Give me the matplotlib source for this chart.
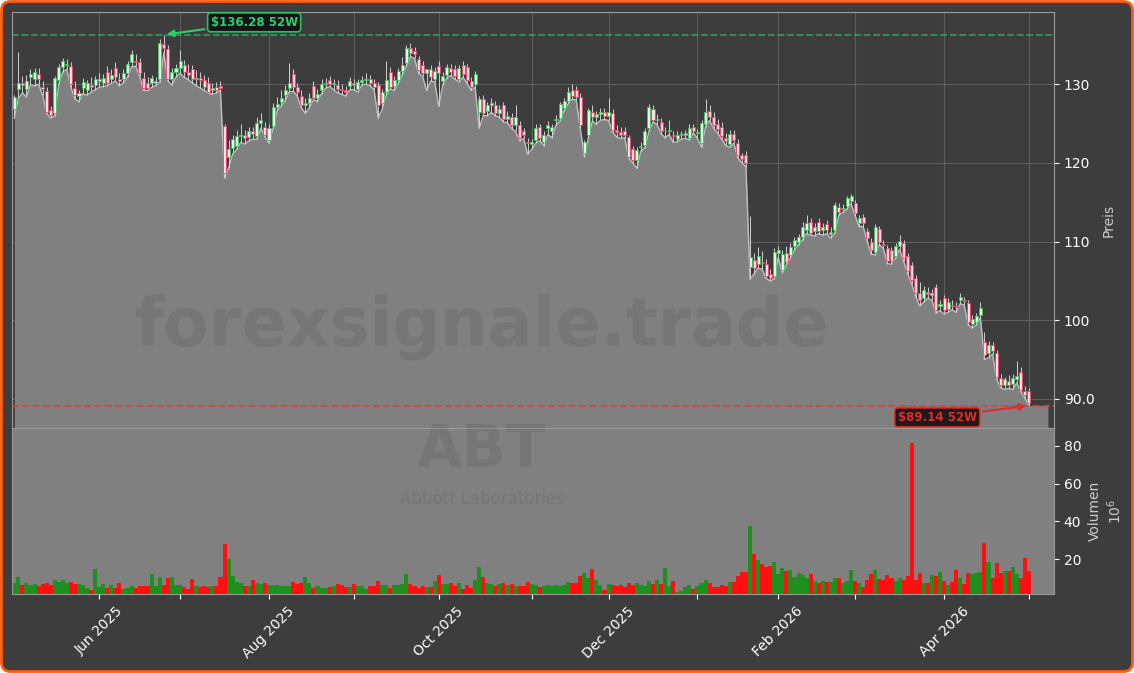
"""
ABT daily candles with 52-week high/low and volume panel
"""
import numpy as np
import matplotlib

matplotlib.use("Agg")

import matplotlib.pyplot as plt
from matplotlib.patches import FancyBboxPatch
from matplotlib.ticker import MultipleLocator, FuncFormatter

# daily OHLC, 1 May 2025 .. 1 May 2026 (trading days only)
opens = [
    126.9, 129.4, 130.2, 129.4, 130.9, 130.7, 131.3, 129.6, 129.1, 126.7, 126.3, 130.5, 132.2, 132.4, 132.3, 129.5, 128.5, 129.5, 129.2, 129.9, 129.9,
    130.4, 130.2, 131.6, 130.7, 132.1, 130.6, 130.7, 131.4, 132.8, 133.0, 132.8, 130.8, 130.2, 130.1, 130.2, 130.6, 135.1, 134.5, 130.6, 131.6,
    132.0, 132.4, 131.5, 131.9, 130.7, 130.8, 130.5, 130.2, 129.2, 129.6, 129.8, 124.7, 120.8, 121.9, 122.2, 123.4, 123.6, 123.3, 124.0, 123.4, 125.1, 124.5,
    122.9, 124.7, 127.1, 127.8, 128.6, 129.5, 131.3, 129.6, 128.5, 127.3, 127.6, 129.8, 128.3, 129.2, 130.0, 130.5, 130.0, 129.9, 129.4, 129.2, 129.8,
    130.2, 129.4, 130.3, 130.5, 130.7, 130.2, 129.9, 127.6, 129.0, 131.5, 129.8, 130.5, 131.7, 132.7, 134.6, 134.2, 133.2, 132.5, 131.4, 131.9, 130.7,
    132.3, 130.4, 131.2, 132.1, 131.9, 130.7, 132.4, 132.2, 130.4, 130.0, 126.5, 128.1, 126.6, 127.3, 127.4, 126.4, 127.3, 125.6, 125.8, 124.8, 124.8, 124.0, 122.6,
    122.4, 122.9, 124.5, 122.6, 124.4, 124.1, 125.4, 125.7, 127.0, 127.9, 129.2, 129.2, 128.4, 121.3, 123.5, 126.5, 125.8, 126.2, 126.5,
    125.9, 126.3, 124.2, 123.9, 124.0, 123.3, 121.8, 120.3, 122.0, 122.3, 124.4, 126.9, 125.5, 125.2, 124.0, 124.0, 123.6, 123.0, 123.6, 123.6, 123.2, 124.5,
    123.8, 122.5, 125.0, 126.6, 125.8, 125.0, 124.6, 123.2, 122.4, 123.7, 122.5, 121.0, 121.0, 106.8, 107.7, 107.2, 107.4, 107.2, 105.9, 105.6,
    108.6, 106.4, 108.6, 108.3, 109.4, 110.0, 110.6, 111.5, 112.5, 111.3, 112.5, 111.4, 112.2, 111.0, 111.5, 114.4, 114.1, 114.5, 115.2,
    114.9, 112.3, 113.1, 111.3, 110.0, 108.7, 111.6, 109.7, 109.2, 108.9, 108.2, 109.4, 109.8, 108.2, 107.0, 105.3, 103.4, 102.8, 103.6, 103.2, 104.2, 101.8,
    102.8, 101.4, 101.9, 101.8, 102.6, 102.6, 102.2, 99.5, 99.8, 100.7, 97.2, 95.8, 96.8, 95.8, 92.6, 91.7, 92.3, 91.9, 92.5, 93.4, 91.0,
    91.0,
]
highs = [
    128.6, 134.1, 131.0, 131.2, 131.9, 132.0, 132.0, 130.4, 129.6, 127.2, 131.0, 132.6, 133.3, 133.2, 132.8, 130.4, 129.3, 130.8, 130.5, 130.9, 131.1,
    131.4, 131.3, 132.3, 131.9, 132.8, 131.4, 131.9, 133.0, 134.4, 133.9, 133.3, 131.5, 130.9, 131.2, 130.9, 135.8, 136.28, 135.0, 132.1, 132.6,
    134.3, 133.1, 132.6, 132.5, 131.8, 131.5, 131.2, 130.9, 130.2, 130.3, 130.4, 125.0, 122.9, 123.5, 124.2, 124.9, 124.2, 124.6, 124.6, 125.8, 126.3, 125.2,
    124.9, 127.6, 128.4, 129.2, 129.9, 132.7, 131.9, 130.2, 129.2, 128.3, 128.9, 130.4, 129.4, 130.6, 130.8, 131.0, 130.6, 130.5, 130.0, 129.8, 130.9,
    130.7, 130.7, 131.1, 131.4, 131.2, 130.6, 130.3, 129.4, 132.9, 132.2, 131.0, 132.1, 133.5, 135.0, 135.3, 134.7, 133.6, 132.9, 131.9, 132.4, 132.2,
    132.9, 131.5, 132.6, 132.6, 132.4, 132.5, 132.9, 132.6, 130.9, 131.7, 128.5, 128.6, 127.8, 128.3, 127.9, 127.4, 127.7, 126.6, 126.3, 127.4, 125.3, 124.4, 123.1,
    123.0, 124.9, 125.0, 124.0, 125.3, 124.9, 126.1, 127.8, 128.3, 129.6, 130.0, 129.8, 128.9, 122.9, 127.0, 127.4, 126.6, 127.0, 127.0,
    128.3, 126.8, 124.8, 124.5, 124.5, 123.6, 122.2, 122.0, 122.6, 124.4, 127.5, 127.3, 126.2, 125.7, 124.5, 125.5, 124.1, 124.0, 124.1, 124.2, 124.9, 125.0,
    124.3, 125.4, 128.1, 127.3, 126.5, 125.6, 125.2, 123.8, 124.2, 124.2, 123.0, 121.3, 121.5, 113.3, 108.5, 109.3, 108.8, 107.8, 106.5, 109.2,
    109.4, 108.9, 109.4, 109.8, 110.6, 111.0, 112.5, 113.4, 113.0, 112.4, 113.0, 112.3, 112.7, 111.8, 115.0, 114.9, 114.8, 115.8, 116.1,
    115.3, 113.4, 113.5, 111.7, 110.4, 112.2, 112.0, 110.2, 109.6, 109.3, 109.8, 110.8, 110.2, 108.6, 107.4, 105.7, 104.9, 104.4, 104.2, 104.0, 104.6, 102.6,
    103.2, 102.8, 102.5, 102.3, 103.4, 103.0, 102.6, 100.6, 100.9, 102.3, 98.5, 97.3, 97.2, 96.2, 93.2, 92.8, 93.0, 93.2, 94.8, 94.0, 91.6,
    91.4,
]
lows = [
    125.7, 128.2, 128.9, 128.4, 129.9, 129.8, 130.0, 128.6, 126.3, 125.7, 126.0, 130.0, 131.6, 131.9, 129.6, 128.1, 127.8, 128.8, 128.6, 129.0, 129.3,
    129.6, 129.7, 129.8, 130.1, 130.4, 129.8, 130.2, 130.9, 132.2, 132.3, 131.0, 129.2, 129.2, 129.6, 129.8, 130.3, 134.0, 130.4, 129.9, 130.9,
    131.4, 130.9, 130.6, 130.2, 129.8, 129.5, 129.2, 128.9, 128.7, 128.9, 129.2, 118.1, 119.3, 121.1, 121.7, 122.6, 122.4, 122.8, 123.0, 123.0, 124.4, 123.3,
    122.5, 124.3, 126.6, 127.2, 127.9, 129.0, 129.1, 128.5, 127.0, 126.3, 127.0, 128.0, 127.8, 128.8, 129.5, 129.7, 129.3, 128.9, 128.7, 128.5, 129.3,
    129.3, 129.0, 129.9, 130.0, 129.8, 129.3, 125.7, 126.8, 128.6, 129.4, 129.2, 130.1, 131.2, 132.3, 133.5, 133.3, 131.4, 131.0, 129.2, 130.4, 130.3,
    127.2, 129.9, 130.8, 131.1, 130.6, 130.3, 130.9, 130.1, 129.2, 129.6, 124.4, 126.0, 126.0, 126.4, 126.0, 125.8, 125.2, 125.1, 124.4, 124.0, 122.8, 123.1, 121.1,
    121.7, 122.5, 122.8, 122.2, 123.6, 123.2, 124.8, 125.3, 126.6, 127.5, 128.1, 128.0, 124.4, 120.8, 123.1, 125.3, 124.9, 125.4, 125.5,
    125.4, 123.9, 123.3, 123.1, 123.2, 120.6, 120.0, 119.3, 121.5, 121.9, 124.0, 125.2, 124.9, 123.7, 123.2, 123.6, 122.6, 122.7, 123.0, 123.1, 122.9, 123.8,
    123.1, 122.0, 124.6, 125.4, 124.4, 123.8, 123.0, 122.2, 122.0, 122.5, 120.6, 120.0, 119.5, 105.2, 105.9, 106.6, 106.5, 105.3, 105.0, 105.2,
    108.0, 106.0, 107.0, 107.9, 108.9, 109.6, 110.2, 111.0, 110.8, 110.7, 111.0, 110.8, 111.0, 110.4, 111.1, 113.4, 113.7, 114.1, 114.8,
    113.3, 111.9, 111.9, 110.0, 108.4, 108.3, 109.6, 109.1, 107.2, 107.1, 107.9, 109.0, 107.5, 105.9, 104.6, 103.0, 101.8, 102.3, 102.8, 102.5, 100.9, 101.2,
    100.8, 101.0, 101.3, 101.0, 102.1, 101.9, 99.4, 99.0, 99.4, 100.3, 95.0, 95.2, 95.7, 92.5, 91.4, 91.2, 91.3, 91.2, 92.0, 90.9, 90.1,
    89.14,
]
closes = [
    128.4, 130.2, 129.9, 130.4, 131.3, 131.5, 130.6, 129.4, 126.5, 126.1, 130.8, 132.2, 133.0, 132.6, 130.0, 128.6, 128.9, 130.3, 130.2, 129.6, 130.6,
    130.7, 130.8, 130.2, 131.2, 130.9, 130.4, 131.4, 132.6, 133.8, 132.8, 131.4, 129.5, 129.5, 130.8, 130.4, 135.3, 134.6, 130.7, 131.6, 132.1,
    133.0, 131.5, 131.2, 130.7, 130.8, 130.5, 129.7, 129.0, 129.5, 129.3, 129.5, 118.7, 121.8, 123.0, 123.4, 123.6, 123.2, 124.0, 123.7, 125.1, 125.5, 123.6,
    124.4, 127.1, 127.5, 128.3, 129.2, 130.2, 129.6, 129.0, 127.3, 127.6, 128.3, 128.3, 128.8, 130.0, 130.2, 130.0, 130.0, 129.4, 129.2, 129.0, 130.4,
    129.9, 130.3, 130.5, 130.7, 130.2, 129.7, 127.4, 129.0, 130.5, 129.7, 130.5, 131.7, 132.5, 134.6, 134.0, 133.8, 131.8, 131.4, 131.9, 130.9, 131.7,
    131.4, 131.0, 132.2, 131.6, 131.0, 132.1, 131.3, 130.5, 129.7, 131.3, 128.1, 126.3, 127.3, 127.6, 126.4, 126.8, 125.6, 126.0, 124.8, 125.8, 123.2, 123.6, 122.5,
    122.6, 124.4, 123.2, 123.6, 124.8, 124.6, 125.6, 127.5, 127.9, 129.0, 128.5, 128.4, 124.8, 122.6, 126.7, 125.8, 126.2, 126.5, 125.9,
    126.5, 124.2, 123.9, 123.6, 123.6, 120.8, 120.3, 121.6, 122.2, 124.0, 127.1, 125.5, 125.5, 124.0, 124.0, 124.2, 123.4, 123.6, 123.6, 123.8, 124.4, 124.0,
    123.8, 125.1, 126.5, 125.8, 124.8, 124.3, 123.4, 122.8, 123.7, 122.9, 121.0, 120.5, 120.0, 108.0, 106.6, 108.2, 107.3, 105.6, 105.4, 108.7,
    108.9, 108.4, 107.4, 109.3, 110.2, 110.6, 111.9, 112.3, 111.1, 111.8, 111.3, 111.9, 111.4, 111.2, 114.7, 113.8, 114.3, 115.5, 115.8,
    113.6, 113.0, 112.3, 110.4, 108.9, 111.9, 109.9, 109.5, 107.5, 107.5, 109.4, 110.1, 107.9, 106.3, 105.1, 103.4, 102.6, 103.8, 103.3, 103.4, 101.3, 102.0,
    101.3, 102.3, 101.8, 101.7, 103.0, 102.4, 99.8, 100.1, 100.5, 101.5, 95.6, 96.9, 96.1, 92.8, 91.8, 92.5, 91.8, 92.6, 92.9, 91.1, 90.5,
    89.5,
]
# volume in millions of shares
volumes = [
    7.6, 10.8, 6.6, 7.6, 6.4, 6.9, 6.0, 6.9, 7.6, 6.6, 9.0, 8.0, 9.0, 7.6, 8.1, 6.9, 6.9, 6.4, 4.8, 3.7,
    14.9, 5.5, 6.9, 4.8, 6.4, 4.8, 7.6, 4.4, 4.8, 5.8, 4.8, 6.0, 6.0, 6.0, 12.2, 5.8, 10.8, 6.4, 10.3, 10.6,
    6.6, 6.6, 5.5, 4.3, 9.6, 5.8, 5.5, 5.8, 5.5, 5.8, 5.8, 10.8, 28.1, 20.2, 11.3, 8.0, 7.4, 5.8, 5.8, 9.0,
    7.3, 6.9, 7.4, 6.4, 6.4, 6.4, 5.8, 5.8, 5.8, 8.0, 6.9, 7.4, 10.6, 7.4, 4.8, 5.8, 4.6, 4.6, 5.1, 5.8,
    6.9, 6.4, 5.5, 5.5, 6.9, 5.8, 5.8, 4.3, 5.8, 5.8, 8.5, 6.4, 6.4, 4.8, 6.4, 6.4, 6.9, 12.2, 6.9, 5.8,
    4.8, 5.8, 5.5, 5.5, 8.5, 11.9, 6.9, 6.9, 7.4, 5.8, 7.4, 4.3, 6.4, 4.8, 9.0, 15.9, 10.8, 7.4, 6.9, 5.8,
    6.9, 7.4, 6.4, 6.9, 5.8, 5.8, 5.8, 8.0, 6.9, 6.4, 5.5, 5.8, 6.4, 5.8, 6.4, 5.8, 6.4, 8.0, 7.4, 7.4,
    11.2, 12.6, 9.9, 14.9, 9.0, 6.6, 3.7, 6.9, 6.6, 6.0, 6.4, 5.3, 7.4, 6.6, 7.4, 6.6, 6.0, 8.3, 6.9, 9.0,
    6.9, 15.4, 5.8, 8.5, 2.8, 3.2, 5.5, 6.2, 4.4, 5.8, 7.6, 9.0, 7.4, 5.5, 5.5, 6.4, 6.0, 8.0, 8.0, 11.3,
    13.1, 13.1, 37.7, 22.8, 19.7, 17.5, 16.1, 16.5, 18.4, 12.2, 15.2, 14.0, 14.3, 10.8, 12.6, 11.7, 10.3, 12.2, 8.5, 7.4,
    8.5, 8.0, 8.0, 10.1, 10.1, 7.6, 8.5, 14.3, 8.5, 7.6, 5.5, 9.0, 12.4, 14.3, 9.6, 9.0, 11.7, 9.9, 8.5, 10.1,
    9.0, 11.3, 81.2, 9.0, 12.7, 7.3, 7.3, 11.7, 11.3, 13.1, 8.5, 6.4, 8.0, 14.2, 10.1, 6.9, 12.7, 12.2, 12.7, 13.1,
    28.7, 18.4, 10.1, 17.9, 12.7, 13.8, 13.8, 16.0, 12.2, 10.1, 20.7, 13.8,
]

# first trading day of each month (index into the series above)
month_ticks = [21, 41, 63, 84, 105, 128, 147, 169, 189, 208, 230, 251]
month_labels = ["Jun 2025", "", "Aug 2025", "", "Oct 2025", "", "Dec 2025", "",
                "Feb 2026", "", "Apr 2026", ""]

BG = "#3d3d3d"
PANEL = "#808080"
GREEN = "#2ecc71"
RED = "#e02b2b"

o = np.array(opens)
h = np.array(highs)
l = np.array(lows)
c = np.array(closes)
v = np.array(volumes)
x = np.arange(len(c))
up = c >= o

high52 = h.max()
low52 = l.min()
ihigh = int(h.argmax())
ilow = int(l.argmin())
ylo, yhi = low52 * 0.968, high52 * 1.021

fig = plt.figure(figsize=(11.34, 6.73), dpi=100, facecolor="white")
# rounded orange frame (pixel coords)
frame = FancyBboxPatch((1.5, 1.5), 1131, 670, boxstyle="round,pad=0,rounding_size=9",
                       transform=None, facecolor=BG, edgecolor="#ff5a0a",
                       linewidth=2, zorder=-10)
fig.add_artist(frame)

ax = fig.add_axes([0.01085, 0.36404, 0.9186, 0.61768])
axv = fig.add_axes([0.01085, 0.11694, 0.9186, 0.2471], sharex=ax)

# price panel
ax.set_facecolor(BG)
ax.fill_between(np.append(x, x[-1] + 4.7), np.append(l, l[-1]), ylo,
                color=PANEL, zorder=1.5, lw=0)
ax.plot(x, l, color="#c0c0c0", lw=1.0, zorder=1.6)
ax.vlines(x, l, h, color="#d0d0d0", lw=0.7, zorder=2)
ax.bar(x, np.maximum(np.abs(c - o), 0.1), 0.75, bottom=np.minimum(o, c),
       color=np.where(up, "#e2f5e4", "#ffdbe2"),
       edgecolor=np.where(up, "#42c060", "#f0406a"), linewidth=0.6, zorder=3)

ax.axhline(high52, color=GREEN, ls="--", lw=1.3, alpha=0.6, zorder=4)
ax.axhline(low52, color="#e04040", ls="--", lw=1.4, alpha=0.9, zorder=4)

ax.annotate(f"${high52:.2f} 52W", xy=(ihigh, high52), xytext=(65, 9),
            textcoords="offset points", ha="center", va="center",
            color=GREEN, fontsize=8.5, fontweight="bold", zorder=6,
            bbox=dict(boxstyle="round,pad=0.25", fc="#101010", ec=GREEN, lw=1.2, alpha=0.9),
            arrowprops=dict(arrowstyle="-|>", color=GREEN, lw=1.5, mutation_scale=10))
ax.annotate(f"${low52:.2f} 52W", xy=(ilow, low52), xytext=(-66, -8.5),
            textcoords="offset points", ha="center", va="center",
            color=RED, fontsize=8.5, fontweight="bold", zorder=6,
            bbox=dict(boxstyle="round,pad=0.25", fc="#101010", ec=RED, lw=1.2, alpha=0.9),
            arrowprops=dict(arrowstyle="-|>", color=RED, lw=1.5, mutation_scale=10))

ax.set_xlim(-0.5, x[-1] + 6.2)
ax.set_ylim(ylo, yhi)
ax.yaxis.set_major_locator(MultipleLocator(10))
ax.yaxis.set_major_formatter(FuncFormatter(lambda val, pos: f"{val:.1f}" if val < 100 else f"{val:.0f}"))
ax.grid(True, color="#5e5e5e", lw=0.8)
ax.set_axisbelow(True)
ax.set_ylabel("Preis", color="#cccccc", fontsize=10, labelpad=5)

# volume panel
axv.set_facecolor(PANEL)
axv.bar(x, v, 1.0, color=np.where(up, "#1f901f", "#ff1010"), lw=0, zorder=2)
axv.set_ylim(1.5, v.max() * 1.1)
axv.yaxis.set_major_locator(MultipleLocator(20))
axv.set_ylabel("Volumen\n$10^6$", color="#cccccc", fontsize=10, labelpad=5)

axv.set_xticks(month_ticks)
axv.set_xticklabels(month_labels, rotation=45, ha="center")

for a in (ax, axv):
    a.yaxis.tick_right()
    a.yaxis.set_label_position("right")
    a.tick_params(colors="white", labelsize=10)
    for s in a.spines.values():
        s.set_color("#9a9a9a")
ax.tick_params(axis="x", bottom=False, labelbottom=False)

# watermark
fig.text(0.425, 0.514, "forexsignale.trade", fontsize=48, fontweight="bold",
         color="black", alpha=0.07, ha="center", va="center")
fig.text(0.425, 0.33, "ABT", fontsize=42, fontweight="bold",
         color="black", alpha=0.07, ha="center", va="center")
fig.text(0.425, 0.258, "Abbott Laboratories", fontsize=12,
         color="black", alpha=0.07, ha="center", va="center")

fig.savefig("out.png", dpi=100, facecolor=fig.get_facecolor())
